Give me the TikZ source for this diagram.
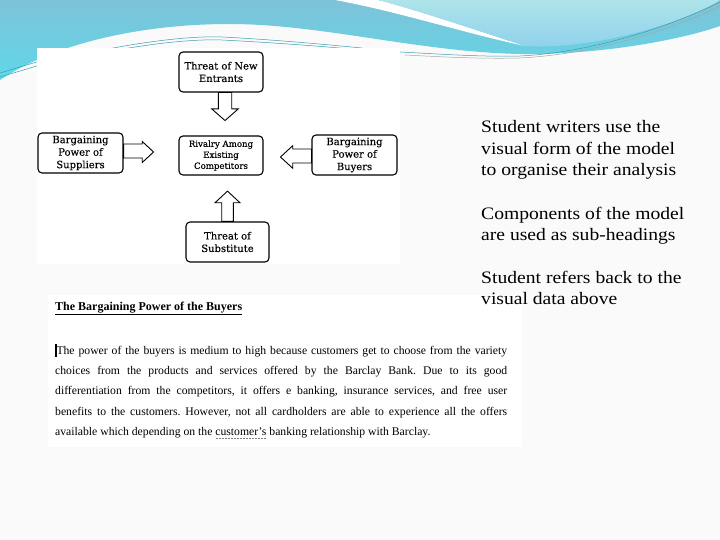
\documentclass[tikz,border=0pt]{standalone}
\usepackage{fontspec}
\setmainfont{Liberation Serif}
\newfontfamily\boxfont[FakeBold=0.2]{DejaVu Serif}
\newfontfamily\sidefont[FakeStretch=1.12]{Liberation Serif}
\usetikzlibrary{calc}
\setlength\parindent{0pt}
\frenchspacing
\definecolor{bgcol}{HTML}{FAFAFA}
\definecolor{hdrTop}{HTML}{7EC2D8}
\definecolor{hdrBot}{HTML}{5FD8E8}
\definecolor{lightTop}{HTML}{AEE4EA}
\definecolor{lightBot}{HTML}{8ED0EC}
\definecolor{tealline}{HTML}{3A9EB0}
\newsavebox\dotsbx
\newcommand\dotund[1]{\sbox\dotsbx{#1}\rlap{\usebox\dotsbx}\raisebox{-3pt}{\color{gray}\hbox to \wd\dotsbx{\leaders\hbox to 1.5pt{\hss\rule{0.7pt}{0.7pt}\hss}\hfill}}}
\newcommand\fullline[1]{\hbox to 452pt{\spaceskip=0pt\xspaceskip=0pt #1}}
\begin{document}
\begin{tikzpicture}[x=1pt,y=-1pt,
  fbox/.style={draw=black, line width=1.1pt, rounded corners=4pt, fill=white,
    inner sep=0pt, align=center, minimum width=84pt, minimum height=40pt,
    font=\boxfont\fontsize{10}{12.5}\selectfont},
  blk/.style={draw=black, line width=0.9pt, fill=white, line join=miter},
  side/.style={anchor=north west, inner sep=0pt, align=left,
    font=\sidefont\fontsize{17.5}{21.4}\selectfont},
  thin/.style={draw=tealline, line width=0.5pt}]
\useasboundingbox (0,0) rectangle (720,540);
\fill[bgcol] (0,0) rectangle (720,540);
% header banner
\shade[top color=hdrTop, bottom color=hdrBot]
  (0,0) -- (720,0) -- (720,26) .. controls (680,40) and (600,55) .. (520,54)
  .. controls (420,52) and (320,24) .. (230,24)
  .. controls (150,24) and (60,40) .. (0,80) -- cycle;
\fill[white] (335,0) .. controls (400,12) and (460,32) .. (525,46)
  .. controls (470,28) and (410,8) .. (378,0) -- cycle;
\shade[top color=lightTop, bottom color=lightBot]
  (378,0) .. controls (410,8) and (470,28) .. (525,46)
  .. controls (600,50) and (690,20) .. (720,0) -- cycle;
\draw[thin] (0,73) -- (40,61);
\draw[thin] (0,77) -- (40,65);
\draw[thin] (108,49) .. controls (160,39) and (200,36) .. (222,37)
  .. controls (280,40) and (330,45) .. (362,48);
\draw[thin] (112,51) .. controls (160,42) and (200,39) .. (222,40)
  .. controls (280,43) and (330,47) .. (362,50);
\draw[thin] (400,52) .. controls (440,54) and (480,57) .. (520,56)
  .. controls (600,52) and (680,22) .. (720,2);
\draw[thin, draw=gray!70] (405,55) .. controls (445,57) and (480,59) .. (520,58)
  .. controls (600,54) and (680,26) .. (720,6);
% panels
\fill[white] (37,48) rectangle (400,264);
\fill[white] (48,295) rectangle (522,447);
% Porter diagram
\node[fbox] (new) at (221,72) {Threat of New\\Entrants};
\node[fbox, minimum height=39pt, font=\boxfont\fontsize{8.6}{11}\selectfont] (riv) at (221,155.5) {Rivalry Among\\Existing\\Competitors};
\node[fbox, minimum width=85pt] (sup) at (80.5,153) {Bargaining\\Power of\\Suppliers};
\node[fbox, minimum width=85pt] (buy) at (354.5,155) {Bargaining\\Power of\\Buyers};
\node[fbox, minimum width=83pt] (sub) at (227.5,242) {Threat of\\Substitute};
\draw[blk] ($(new.south)+(-2.7,0)$) -- ++(0,16.3) -- ++(-6.6,0) -- ++(13.3,11.7)
  -- ++(13.3,-11.7) -- ++(-6.6,0) -- ++(0,-16.3) -- cycle;
\draw[blk] ($(sub.north)+(-5.8,0)$) -- ++(0,-18.7) -- ++(-6.7,0) -- ++(12.5,-11.6)
  -- ++(12.5,11.6) -- ++(-6.7,0) -- ++(0,18.7) -- cycle;
\draw[blk] ($(sup.east)+(0,-9)$) -- ++(18.7,0) -- ++(0,-2.5) -- ++(11.3,10.5)
  -- ++(-11.3,10.5) -- ++(0,-4.5) -- ++(-18.7,0) -- cycle;
\draw[blk] ($(buy.west)+(0,-6)$) -- ++(-18.7,0) -- ++(0,-3.3) -- ++(-12.3,11.3)
  -- ++(12.3,11.3) -- ++(0,-5.3) -- ++(18.7,0) -- cycle;
% essay extract
\node[anchor=north west, inner sep=0pt, font=\fontsize{12}{14}\selectfont\bfseries] (head) at (55,300.2)
  {\strut\underline{The Bargaining Power of the Buyers}};
\node[anchor=north west, inner sep=0pt, text width=452pt, align=justify,
  font=\fontsize{11.7}{20.4}\selectfont] (body) at (55,339.7)
  {\strut\fullline{\rule[-3pt]{1.3pt}{13pt}The power of the buyers is medium to high because customers get to choose from the variety}\\
   \fullline{choices from the products and services offered by the Barclay Bank. Due to its good}\\
   \fullline{differentiation from the competitors, it offers e banking, insurance services, and free user}\\
   \fullline{benefits to the customers. However, not all cardholders are able to experience all the offers}\\
   available which depending on the \dotund{customer’s} banking relationship with Barclay.};
% side notes
\node[side] (t1) at (481,117.7) {\strut Student writers use the\\visual form of the model\\to organise their analysis};
\node[side] (t2) at (481,204.0) {\strut Components of the model\\are used as sub-headings};
\node[side] (t3) at (481,268.3) {\strut Student refers back to the\\visual data above};
\end{tikzpicture}
\end{document}
